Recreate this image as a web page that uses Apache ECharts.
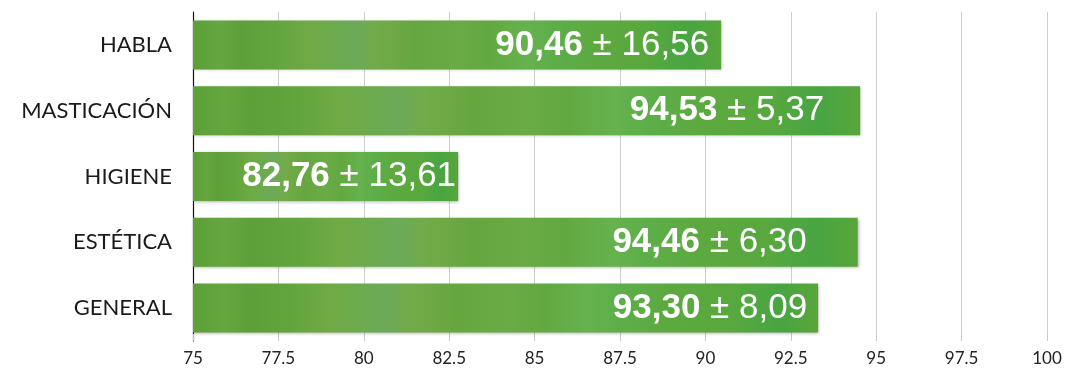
<!DOCTYPE html>
<html>
<head>
<meta charset="utf-8">
<script src="https://cdn.jsdelivr.net/npm/echarts@6/dist/echarts.min.js"></script>
<style>
  html, body { margin: 0; padding: 0; background: #fff; }
  #chart { width: 1067px; height: 370px; }
</style>
</head>
<body>
<div id="chart"></div>
<script>
// Dominios de calidad de vida: media ± desviación estándar
const categories = ['HABLA', 'MASTICACIÓN', 'HIGIENE', 'ESTÉTICA', 'GENERAL'];
const means = [90.46, 94.53, 82.76, 94.46, 93.30];
const sds = [16.56, 5.37, 13.61, 6.30, 8.09];
const tickValues = [75, 77.5, 80, 82.5, 85, 87.5, 90, 92.5, 95, 97.5, 100];

// Separación (px) entre el texto de cada barra y su extremo derecho
const labelGap = [12, 36, 2, 51, 11];

const fmt = v => v.toFixed(2).replace('.', ',');

// Relleno verde con vetas suaves, estirado sobre cada barra
const barFill = new echarts.graphic.LinearGradient(0, 0, 1, 0, [
  { offset: 0.00, color: '#5b9f37' },
  { offset: 0.05, color: '#66a63f' },
  { offset: 0.09, color: '#5d9f38' },
  { offset: 0.16, color: '#63a53d' },
  { offset: 0.22, color: '#70aa45' },
  { offset: 0.27, color: '#6baa4e' },
  { offset: 0.31, color: '#6caa58' },
  { offset: 0.35, color: '#72ab49' },
  { offset: 0.42, color: '#66a63f' },
  { offset: 0.50, color: '#6aab46' },
  { offset: 0.56, color: '#62a840' },
  { offset: 0.63, color: '#66b24e' },
  { offset: 0.68, color: '#5dae4a' },
  { offset: 0.76, color: '#5ca93f' },
  { offset: 0.86, color: '#58a83e' },
  { offset: 0.94, color: '#48a542' },
  { offset: 1.00, color: '#58a63a' }
]);

const chart = echarts.init(document.getElementById('chart'), null, { renderer: 'canvas' });

chart.setOption({
  animation: false,
  backgroundColor: '#ffffff',
  grid: { left: 193, right: 20, top: 12, bottom: 29 },
  xAxis: {
    type: 'value',
    min: 75,
    max: 100,
    interval: 2.5,
    axisLine: { show: false },
    axisTick: { show: true, length: 7, inside: true, lineStyle: { color: '#c8c8c8' } },
    splitLine: { show: true, lineStyle: { color: '#cfcfcf', width: 1 } },
    axisLabel: {
      margin: 9,
      fontFamily: 'Lato, sans-serif',
      fontSize: 17,
      color: '#222',
      formatter: v => (tickValues.includes(v) ? String(v) : '')
    }
  },
  yAxis: {
    type: 'category',
    data: categories,
    inverse: true,
    axisLine: { show: true, lineStyle: { color: '#111', width: 1.2 } },
    axisTick: { show: false },
    axisLabel: {
      margin: 21,
      fontFamily: 'Lato, sans-serif',
      fontSize: 22,
      color: '#1a1a1a'
    }
  },
  series: [{
    type: 'bar',
    data: means.map((m, i) => ({
      value: m,
      label: { distance: labelGap[i] }
    })),
    barWidth: 49,
    itemStyle: {
      color: barFill,
      shadowColor: 'rgba(0,0,0,0.30)',
      shadowBlur: 3,
      shadowOffsetX: 1,
      shadowOffsetY: 1
    },
    label: {
      show: true,
      position: 'insideRight',
      formatter: p => '{b|' + fmt(p.value) + '}{r| ± ' + fmt(sds[p.dataIndex]) + '}',
      rich: {
        b: { fontFamily: '"Liberation Sans", Arial, sans-serif', fontWeight: 'bold', fontSize: 35, color: '#fff' },
        r: { fontFamily: '"Liberation Sans", Arial, sans-serif', fontSize: 35, color: '#fff' }
      }
    }
  }]
});
</script>
</body>
</html>
